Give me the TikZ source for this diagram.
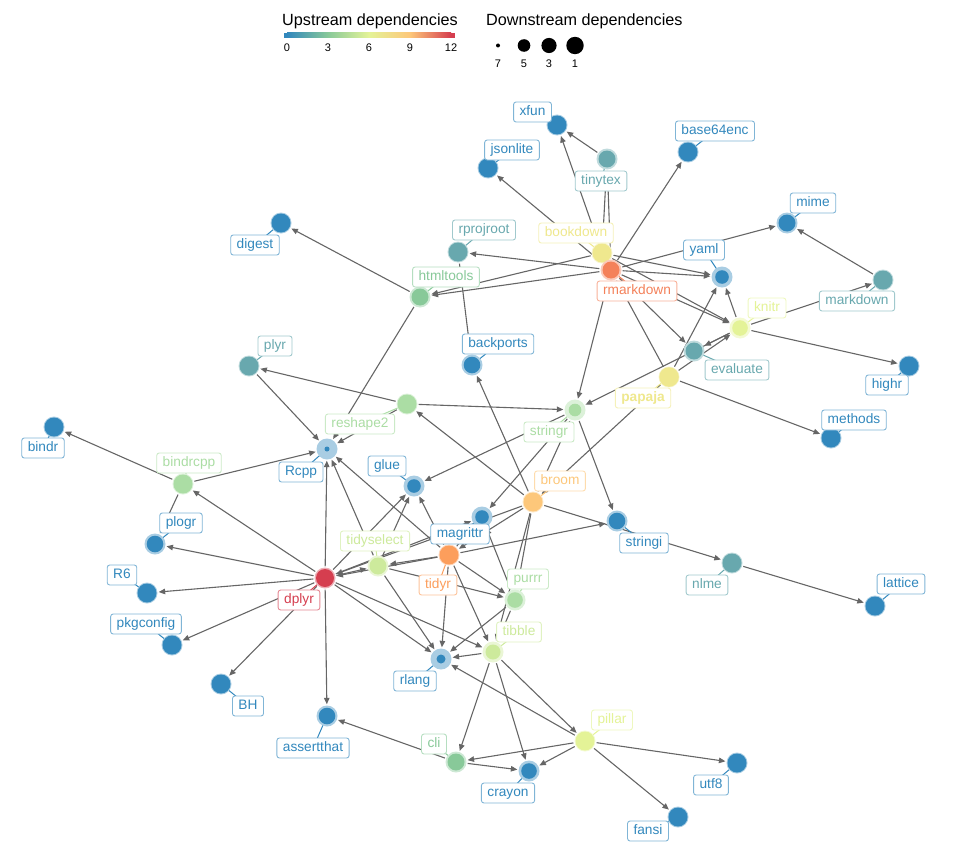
\documentclass[tikz,border=0pt]{standalone}
\usepackage{fontspec}
\setmainfont{Liberation Sans}
\usetikzlibrary{arrows.meta}
\definecolor{cBlue}{HTML}{3288BD}
\definecolor{cTeal}{HTML}{68A8AE}
\definecolor{cGrnA}{HTML}{88C999}
\definecolor{cGrnB}{HTML}{ABDDA4}
\definecolor{cYGrn}{HTML}{CDEA9C}
\definecolor{cLYel}{HTML}{E4F397}
\definecolor{cYel}{HTML}{EFE88E}
\definecolor{cLOra}{HTML}{FDC77A}
\definecolor{cOra}{HTML}{FC9E5C}
\definecolor{cROra}{HTML}{F4815A}
\definecolor{cRed}{HTML}{D53E4F}
\definecolor{edgegray}{HTML}{666666}
\pgfdeclarelayer{edges}
\pgfdeclarelayer{leaders}
\pgfdeclarelayer{discs}
\pgfsetlayers{edges,leaders,discs,main}
\newcommand\pkgdisc[3]{\fill[#2!42!white] (#1) circle[radius=10.5pt]; \fill[#2] (#1) circle[radius=#3pt];}
\tikzset{
  pkg/.style={circle, minimum size=23pt, inner sep=0pt},
  dep/.style={draw=edgegray, line width=1.1pt, -{Triangle[length=6.5pt,width=5.5pt]}},
  lbl/.style={draw=#1!62!white, text=#1, fill=white, rounded corners=2.5pt, line width=0.9pt,
    inner xsep=6pt, inner ysep=0pt, minimum height=20pt, text height=9.8pt, text depth=3pt,
    font=\fontsize{13.7}{15}\selectfont},
  leader/.style={draw=#1, line width=1pt},
  head/.style={anchor=west, font=\fontsize{16.2}{18}\selectfont, inner sep=0pt},
  tick/.style={font=\fontsize{11}{12}\selectfont, inner sep=0pt},
}
\begin{document}
\begin{tikzpicture}[x=1pt,y=-1pt]
\useasboundingbox (0,0) rectangle (960,864);
% ---------- legend ----------
\node[head] (uphead) at (282,21.5) {Upstream dependencies};
\fill[cBlue] (284,33) rectangle (287,38);
\shade[left color=cBlue, right color=cGrnA] (287,33) rectangle (328,38);
\shade[left color=cGrnA, right color=cLYel] (328,33) rectangle (369,38);
\shade[left color=cLYel, right color=cLOra] (369,33) rectangle (410,38);
\shade[left color=cLOra, right color=cRed] (410,33) rectangle (451,38);
\fill[cRed] (451,33) rectangle (455,38);
\node[tick] (t0) at (287,48) {0};
\node[tick] (t3) at (328,48) {3};
\node[tick] (t6) at (369,48) {6};
\node[tick] (t9) at (410,48) {9};
\node[tick] (t12) at (451,48) {12};
\node[head] (downhead) at (486,21.5) {Downstream dependencies};
\fill (498,45.5) circle[radius=2pt];
\fill (524,45.5) circle[radius=6.3pt];
\fill (549,45.5) circle[radius=7.6pt];
\fill (575,45.5) circle[radius=8.7pt];
\node[tick] (d7) at (498,64) {7};
\node[tick] (d5) at (524,64) {5};
\node[tick] (d3) at (549,64) {3};
\node[tick] (d1) at (575,64) {1};
% ---------- package positions ----------
\node[pkg] (xfun) at (557,125) {};
\node[pkg] (jsonlite) at (488,168) {};
\node[pkg] (tinytex) at (607,159) {};
\node[pkg] (base64enc) at (688,152) {};
\node[pkg] (digest) at (281,223) {};
\node[pkg] (rprojroot) at (458,252) {};
\node[pkg] (bookdown) at (602,253) {};
\node[pkg] (rmarkdown) at (611,270) {};
\node[pkg] (yaml) at (722,277) {};
\node[pkg] (mime) at (787,223) {};
\node[pkg] (markdown) at (883,280) {};
\node[pkg] (htmltools) at (420,297) {};
\node[pkg] (knitr) at (740,328) {};
\node[pkg] (evaluate) at (694,351) {};
\node[pkg] (papaja) at (669,377) {};
\node[pkg] (highr) at (909,366) {};
\node[pkg] (backports) at (472,365) {};
\node[pkg] (plyr) at (249,366) {};
\node[pkg] (reshape2) at (407,404) {};
\node[pkg] (stringr) at (575,410) {};
\node[pkg] (methods) at (831,438) {};
\node[pkg] (bindr) at (54,427) {};
\node[pkg] (Rcpp) at (327,449) {};
\node[pkg] (bindrcpp) at (183,484) {};
\node[pkg] (glue) at (414,486) {};
\node[pkg] (broom) at (533,502) {};
\node[pkg] (magrittr) at (482,517) {};
\node[pkg] (stringi) at (617,521) {};
\node[pkg] (plogr) at (155,544) {};
\node[pkg] (tidyselect) at (378,566) {};
\node[pkg] (tidyr) at (449,555) {};
\node[pkg] (nlme) at (732,563) {};
\node[pkg] (R6) at (147,593) {};
\node[pkg] (dplyr) at (325,578) {};
\node[pkg] (purrr) at (515,600) {};
\node[pkg] (lattice) at (875,606) {};
\node[pkg] (pkgconfig) at (172,645) {};
\node[pkg] (tibble) at (493,652) {};
\node[pkg] (rlang) at (441,659) {};
\node[pkg] (BH) at (221,684) {};
\node[pkg] (assertthat) at (327,716) {};
\node[pkg] (pillar) at (585,741) {};
\node[pkg] (cli) at (456,762) {};
\node[pkg] (crayon) at (529,771) {};
\node[pkg] (utf8) at (737,763) {};
\node[pkg] (fansi) at (678,817) {};
% ---------- labels ----------
\node[lbl=cBlue] (xfun-l) at (532.5,112) {xfun};
\node[lbl=cBlue] (jsonlite-l) at (512,150) {jsonlite};
\node[lbl=cTeal] (tinytex-l) at (601,181) {tinytex};
\node[lbl=cBlue] (base64enc-l) at (715,131) {base64enc};
\node[lbl=cBlue] (digest-l) at (255,245) {digest};
\node[lbl=cTeal] (rprojroot-l) at (484,230) {rprojroot};
\node[lbl=cYel] (bookdown-l) at (576,233) {bookdown};
\node[lbl=cROra] (rmarkdown-l) at (637,291) {rmarkdown};
\node[lbl=cBlue] (yaml-l) at (704,250) {yaml};
\node[lbl=cBlue] (mime-l) at (813,203) {mime};
\node[lbl=cTeal] (markdown-l) at (857,301) {markdown};
\node[lbl=cGrnA] (htmltools-l) at (446,277) {htmltools};
\node[lbl=cLYel] (knitr-l) at (767,308) {knitr};
\node[lbl=cTeal] (evaluate-l) at (737,370) {evaluate};
\node[lbl=cYel, font=\fontsize{13.7}{15}\selectfont\bfseries] (papaja-l) at (643,398) {papaja};
\node[lbl=cBlue] (highr-l) at (887,385) {highr};
\node[lbl=cBlue] (backports-l) at (498,344) {backports};
\node[lbl=cTeal] (plyr-l) at (275,346) {plyr};
\node[lbl=cGrnB] (reshape2-l) at (360,424) {reshape2};
\node[lbl=cGrnB] (stringr-l) at (549,432) {stringr};
\node[lbl=cBlue] (methods-l) at (854,420) {methods};
\node[lbl=cBlue] (bindr-l) at (43,448) {bindr};
\node[lbl=cBlue] (Rcpp-l) at (301,472) {Rcpp};
\node[lbl=cGrnB] (bindrcpp-l) at (189,463) {bindrcpp};
\node[lbl=cBlue] (glue-l) at (387,466) {glue};
\node[lbl=cLOra] (broom-l) at (560,481) {broom};
\node[lbl=cBlue] (magrittr-l) at (460,534) {magrittr};
\node[lbl=cBlue] (stringi-l) at (644,543) {stringi};
\node[lbl=cBlue] (plogr-l) at (181,523) {plogr};
\node[lbl=cYGrn] (tidyselect-l) at (375,541) {tidyselect};
\node[lbl=cOra] (tidyr-l) at (438,585) {tidyr};
\node[lbl=cTeal] (nlme-l) at (707,585) {nlme};
\node[lbl=cBlue] (R6-l) at (122,575) {R6};
\node[lbl=cRed] (dplyr-l) at (299,600) {dplyr};
\node[lbl=cGrnB] (purrr-l) at (528,579) {purrr};
\node[lbl=cBlue] (lattice-l) at (901,584) {lattice};
\node[lbl=cBlue] (pkgconfig-l) at (146,624) {pkgconfig};
\node[lbl=cYGrn] (tibble-l) at (519,632) {tibble};
\node[lbl=cBlue] (rlang-l) at (415,681) {rlang};
\node[lbl=cBlue] (BH-l) at (248,706) {BH};
\node[lbl=cBlue] (assertthat-l) at (313,748) {assertthat};
\node[lbl=cLYel] (pillar-l) at (612,720) {pillar};
\node[lbl=cGrnA] (cli-l) at (434,744) {cli};
\node[lbl=cBlue] (crayon-l) at (508,793) {crayon};
\node[lbl=cBlue] (utf8-l) at (711,785) {utf8};
\node[lbl=cBlue] (fansi-l) at (648,831) {fansi};
% ---------- dependency edges ----------
\begin{pgfonlayer}{edges}
\draw[dep] (tinytex) -- (xfun);
\draw[dep] (bookdown) -- (xfun);
\draw[dep] (rmarkdown) -- (jsonlite);
\draw[dep] (rmarkdown) -- (tinytex);
\draw[dep] (bookdown) -- (tinytex);
\draw[dep] (rmarkdown) -- (base64enc);
\draw[dep] (rmarkdown) -- (rprojroot);
\draw[dep] (rmarkdown) -- (htmltools);
\draw[dep] (bookdown) -- (htmltools);
\draw[dep] (htmltools) -- (digest);
\draw[dep] (htmltools) -- (Rcpp);
\draw[dep] (rprojroot) -- (backports);
\draw[dep] (broom) -- (backports);
\draw[dep] (rmarkdown) -- (yaml);
\draw[dep] (bookdown) -- (yaml);
\draw[dep] (knitr) -- (yaml);
\draw[dep] (papaja) -- (yaml);
\draw[dep] (rmarkdown) -- (mime);
\draw[dep] (markdown) -- (mime);
\draw[dep] (knitr) -- (markdown);
\draw[dep] (knitr) -- (highr);
\draw[dep] (rmarkdown) -- (knitr);
\draw[dep] (bookdown) -- (knitr);
\draw[dep] (papaja) -- (knitr);
\draw[dep] (knitr) -- (evaluate);
\draw[dep] (rmarkdown) -- (evaluate);
\draw[dep] (knitr) -- (stringr);
\draw[dep] (rmarkdown) -- (stringr);
\draw[dep] (papaja) -- (rmarkdown);
\draw[dep] (papaja) -- (methods);
\draw[dep] (papaja) -- (broom);
\draw[dep] (reshape2) -- (stringr);
\draw[dep] (reshape2) -- (plyr);
\draw[dep] (reshape2) -- (Rcpp);
\draw[dep] (plyr) -- (Rcpp);
\draw[dep] (bindrcpp) -- (Rcpp);
\draw[dep] (bindrcpp) -- (bindr);
\draw[dep] (bindrcpp) -- (plogr);
\draw[dep] (dplyr) -- (bindrcpp);
\draw[dep] (dplyr) -- (plogr);
\draw[dep] (dplyr) -- (R6);
\draw[dep] (dplyr) -- (pkgconfig);
\draw[dep] (dplyr) -- (BH);
\draw[dep] (dplyr) -- (assertthat);
\draw[dep] (dplyr) -- (Rcpp);
\draw[dep] (dplyr) -- (glue);
\draw[dep] (dplyr) -- (tidyselect);
\draw[dep] (dplyr) -- (magrittr);
\draw[dep] (dplyr) -- (rlang);
\draw[dep] (dplyr) -- (tibble);
\draw[dep] (tidyr) -- (dplyr);
\draw[dep] (broom) -- (dplyr);
\draw[dep] (tidyr) -- (tidyselect);
\draw[dep] (tidyr) -- (Rcpp);
\draw[dep] (tidyr) -- (magrittr);
\draw[dep] (tidyr) -- (purrr);
\draw[dep] (tidyr) -- (rlang);
\draw[dep] (tidyr) -- (tibble);
\draw[dep] (tidyr) -- (glue);
\draw[dep] (tidyr) -- (stringi);
\draw[dep] (broom) -- (tidyr);
\draw[dep] (broom) -- (reshape2);
\draw[dep] (broom) -- (stringr);
\draw[dep] (broom) -- (nlme);
\draw[dep] (broom) -- (purrr);
\draw[dep] (broom) -- (tibble);
\draw[dep] (nlme) -- (lattice);
\draw[dep] (stringr) -- (glue);
\draw[dep] (stringr) -- (magrittr);
\draw[dep] (stringr) -- (stringi);
\draw[dep] (tidyselect) -- (glue);
\draw[dep] (tidyselect) -- (Rcpp);
\draw[dep] (tidyselect) -- (purrr);
\draw[dep] (tidyselect) -- (rlang);
\draw[dep] (purrr) -- (rlang);
\draw[dep] (purrr) -- (tibble);
\draw[dep] (purrr) -- (magrittr);
\draw[dep] (tibble) -- (rlang);
\draw[dep] (tibble) -- (cli);
\draw[dep] (tibble) -- (crayon);
\draw[dep] (tibble) -- (pillar);
\draw[dep] (pillar) -- (rlang);
\draw[dep] (pillar) -- (cli);
\draw[dep] (pillar) -- (crayon);
\draw[dep] (pillar) -- (utf8);
\draw[dep] (pillar) -- (fansi);
\draw[dep] (cli) -- (assertthat);
\draw[dep] (cli) -- (crayon);
\end{pgfonlayer}
% ---------- label leaders ----------
\begin{pgfonlayer}{leaders}
\foreach \n/\c in {xfun/cBlue, jsonlite/cBlue, tinytex/cTeal, base64enc/cBlue, digest/cBlue,
  rprojroot/cTeal, bookdown/cYel, rmarkdown/cROra, yaml/cBlue, mime/cBlue, markdown/cTeal,
  htmltools/cGrnA, knitr/cLYel, evaluate/cTeal, papaja/cYel, highr/cBlue, backports/cBlue,
  plyr/cTeal, reshape2/cGrnB, stringr/cGrnB, methods/cBlue, bindr/cBlue, Rcpp/cBlue,
  bindrcpp/cGrnB, glue/cBlue, broom/cLOra, magrittr/cBlue, stringi/cBlue, plogr/cBlue,
  tidyselect/cYGrn, tidyr/cOra, nlme/cTeal, R6/cBlue, dplyr/cRed, purrr/cGrnB, lattice/cBlue,
  pkgconfig/cBlue, tibble/cYGrn, rlang/cBlue, BH/cBlue, assertthat/cBlue, pillar/cLYel,
  cli/cGrnA, crayon/cBlue, utf8/cBlue, fansi/cBlue}
  {\draw[leader=\c] (\n.center) -- (\n-l.center);}
\end{pgfonlayer}
% ---------- package discs ----------
\begin{pgfonlayer}{discs}
\pkgdisc{xfun}{cBlue}{9.5}
\pkgdisc{jsonlite}{cBlue}{9.5}
\pkgdisc{tinytex}{cTeal}{8.5}
\pkgdisc{base64enc}{cBlue}{9.5}
\pkgdisc{digest}{cBlue}{9.5}
\pkgdisc{rprojroot}{cTeal}{9.5}
\pkgdisc{bookdown}{cYel}{9.5}
\pkgdisc{rmarkdown}{cROra}{8.5}
\pkgdisc{yaml}{cBlue}{6.8}
\pkgdisc{mime}{cBlue}{8.5}
\pkgdisc{markdown}{cTeal}{9.5}
\pkgdisc{htmltools}{cGrnA}{8.5}
\pkgdisc{knitr}{cLYel}{7.8}
\pkgdisc{evaluate}{cTeal}{8.5}
\pkgdisc{papaja}{cYel}{9.8}
\pkgdisc{highr}{cBlue}{9.5}
\pkgdisc{backports}{cBlue}{8.3}
\pkgdisc{plyr}{cTeal}{9.5}
\pkgdisc{reshape2}{cGrnB}{9.5}
\pkgdisc{stringr}{cGrnB}{6.3}
\pkgdisc{methods}{cBlue}{9.5}
\pkgdisc{bindr}{cBlue}{9.5}
\pkgdisc{Rcpp}{cBlue}{2.5}
\pkgdisc{bindrcpp}{cGrnB}{9.5}
\pkgdisc{glue}{cBlue}{6.8}
\pkgdisc{broom}{cLOra}{9.5}
\pkgdisc{magrittr}{cBlue}{6.8}
\pkgdisc{stringi}{cBlue}{8.3}
\pkgdisc{plogr}{cBlue}{8.3}
\pkgdisc{tidyselect}{cYGrn}{8.5}
\pkgdisc{tidyr}{cOra}{9.5}
\pkgdisc{nlme}{cTeal}{9.5}
\pkgdisc{R6}{cBlue}{9.5}
\pkgdisc{dplyr}{cRed}{9}
\pkgdisc{purrr}{cGrnB}{7.8}
\pkgdisc{lattice}{cBlue}{9.5}
\pkgdisc{pkgconfig}{cBlue}{9.5}
\pkgdisc{tibble}{cYGrn}{7.5}
\pkgdisc{rlang}{cBlue}{4.5}
\pkgdisc{BH}{cBlue}{9.5}
\pkgdisc{assertthat}{cBlue}{8.3}
\pkgdisc{pillar}{cLYel}{9.5}
\pkgdisc{cli}{cGrnA}{8.5}
\pkgdisc{crayon}{cBlue}{7.8}
\pkgdisc{utf8}{cBlue}{9.5}
\pkgdisc{fansi}{cBlue}{9.5}
\end{pgfonlayer}
\end{tikzpicture}
\end{document}
